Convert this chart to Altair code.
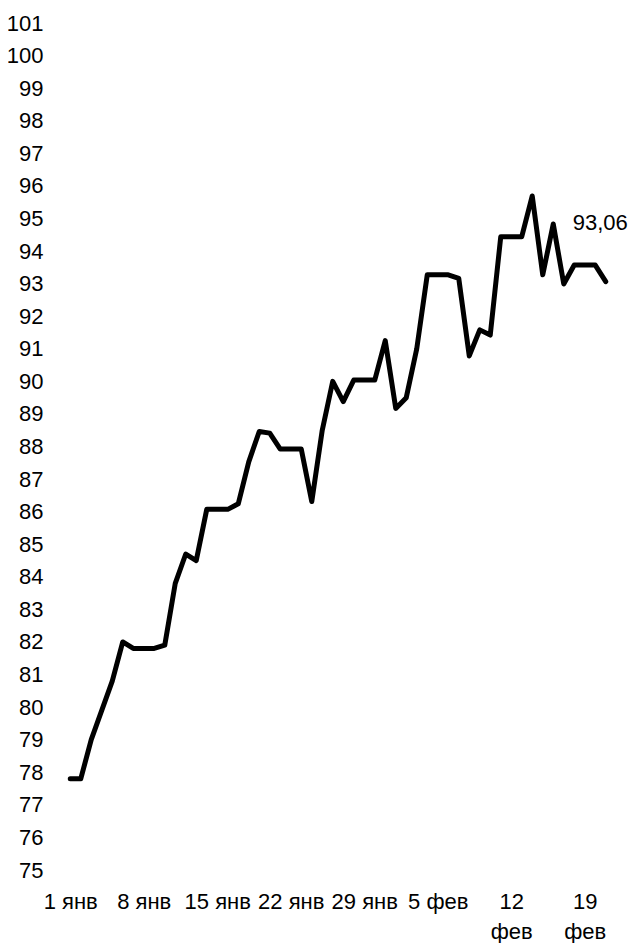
import json
import altair as alt
import pandas as pd

# Daily values, 1 Jan .. 21 Feb
dates = pd.date_range("2024-01-01", "2024-02-21", freq="D").strftime("%Y-%m-%d").tolist()
values = [
    77.8, 77.8, 79.0, 79.9, 80.8, 82.0, 81.8, 81.8, 81.8, 81.9,
    83.8, 84.7, 84.5, 86.07, 86.07, 86.07, 86.24, 87.53, 88.46, 88.41,
    87.92, 87.92, 87.92, 86.31, 88.5, 90.0, 89.38, 90.04, 90.04, 90.04,
    91.25, 89.17, 89.5, 91.0, 93.27, 93.27, 93.27, 93.16, 90.78, 91.58,
    91.42, 94.44, 94.44, 94.44, 95.69, 93.27, 94.83, 92.99, 93.57, 93.57,
    93.57, 93.06,
]
tick_dates = ["2024-01-01", "2024-01-08", "2024-01-15", "2024-01-22",
              "2024-01-29", "2024-02-05", "2024-02-12", "2024-02-19"]
tick_labels = ["1 янв", "8 янв", "15 янв", "22 янв", "29 янв", "5 фев",
               ["12", "фев"], ["19", "фев"]]
y_ticks = list(range(75, 102))

FONT = "Liberation Sans, Arial, sans-serif"
FS = 22

df = pd.DataFrame({"date": dates, "value": values})
df["label"] = [f"{v:.2f}".replace(".", ",") for v in df["value"]]
last = df.tail(1)

label_expr = (json.dumps(tick_labels, ensure_ascii=False)
              + "[indexof(" + json.dumps(tick_dates) + ", datum.value)]")

x = alt.X("date:O", title=None,
          scale=alt.Scale(type="point", padding=0.5),
          axis=alt.Axis(values=tick_dates, labelExpr=label_expr, labelAngle=0,
                        domain=False, ticks=False, grid=False,
                        labelFont=FONT, labelFontSize=FS, labelColor="#000000",
                        labelPadding=21, labelLineHeight=30,
                        labelBaseline="top", labelOverlap=False))
y = alt.Y("value:Q", title=None,
          scale=alt.Scale(domain=[75, 101], nice=False, zero=False),
          axis=alt.Axis(values=y_ticks, domain=False, ticks=False, grid=False,
                        labelFont=FONT, labelFontSize=FS, labelColor="#000000",
                        labelPadding=22, labelOverlap=False))

line = alt.Chart(df).mark_line(color="#000000", strokeWidth=5,
                               strokeJoin="round", strokeCap="round").encode(x=x, y=y)

text = alt.Chart(last).mark_text(font=FONT, fontSize=FS, color="#000000",
                                 align="right", baseline="middle",
                                 dx=22, dy=-59).encode(x=x, y=y, text="label:N")

chart = (line + text).properties(
    width=546, height=847,
    autosize=alt.AutoSizeParams(type="none"),
    padding={"left": 57, "top": 15, "right": 20, "bottom": 80},
).configure_view(stroke=None)

chart.save("out.html", embed_options={"renderer": "svg", "actions": False})
